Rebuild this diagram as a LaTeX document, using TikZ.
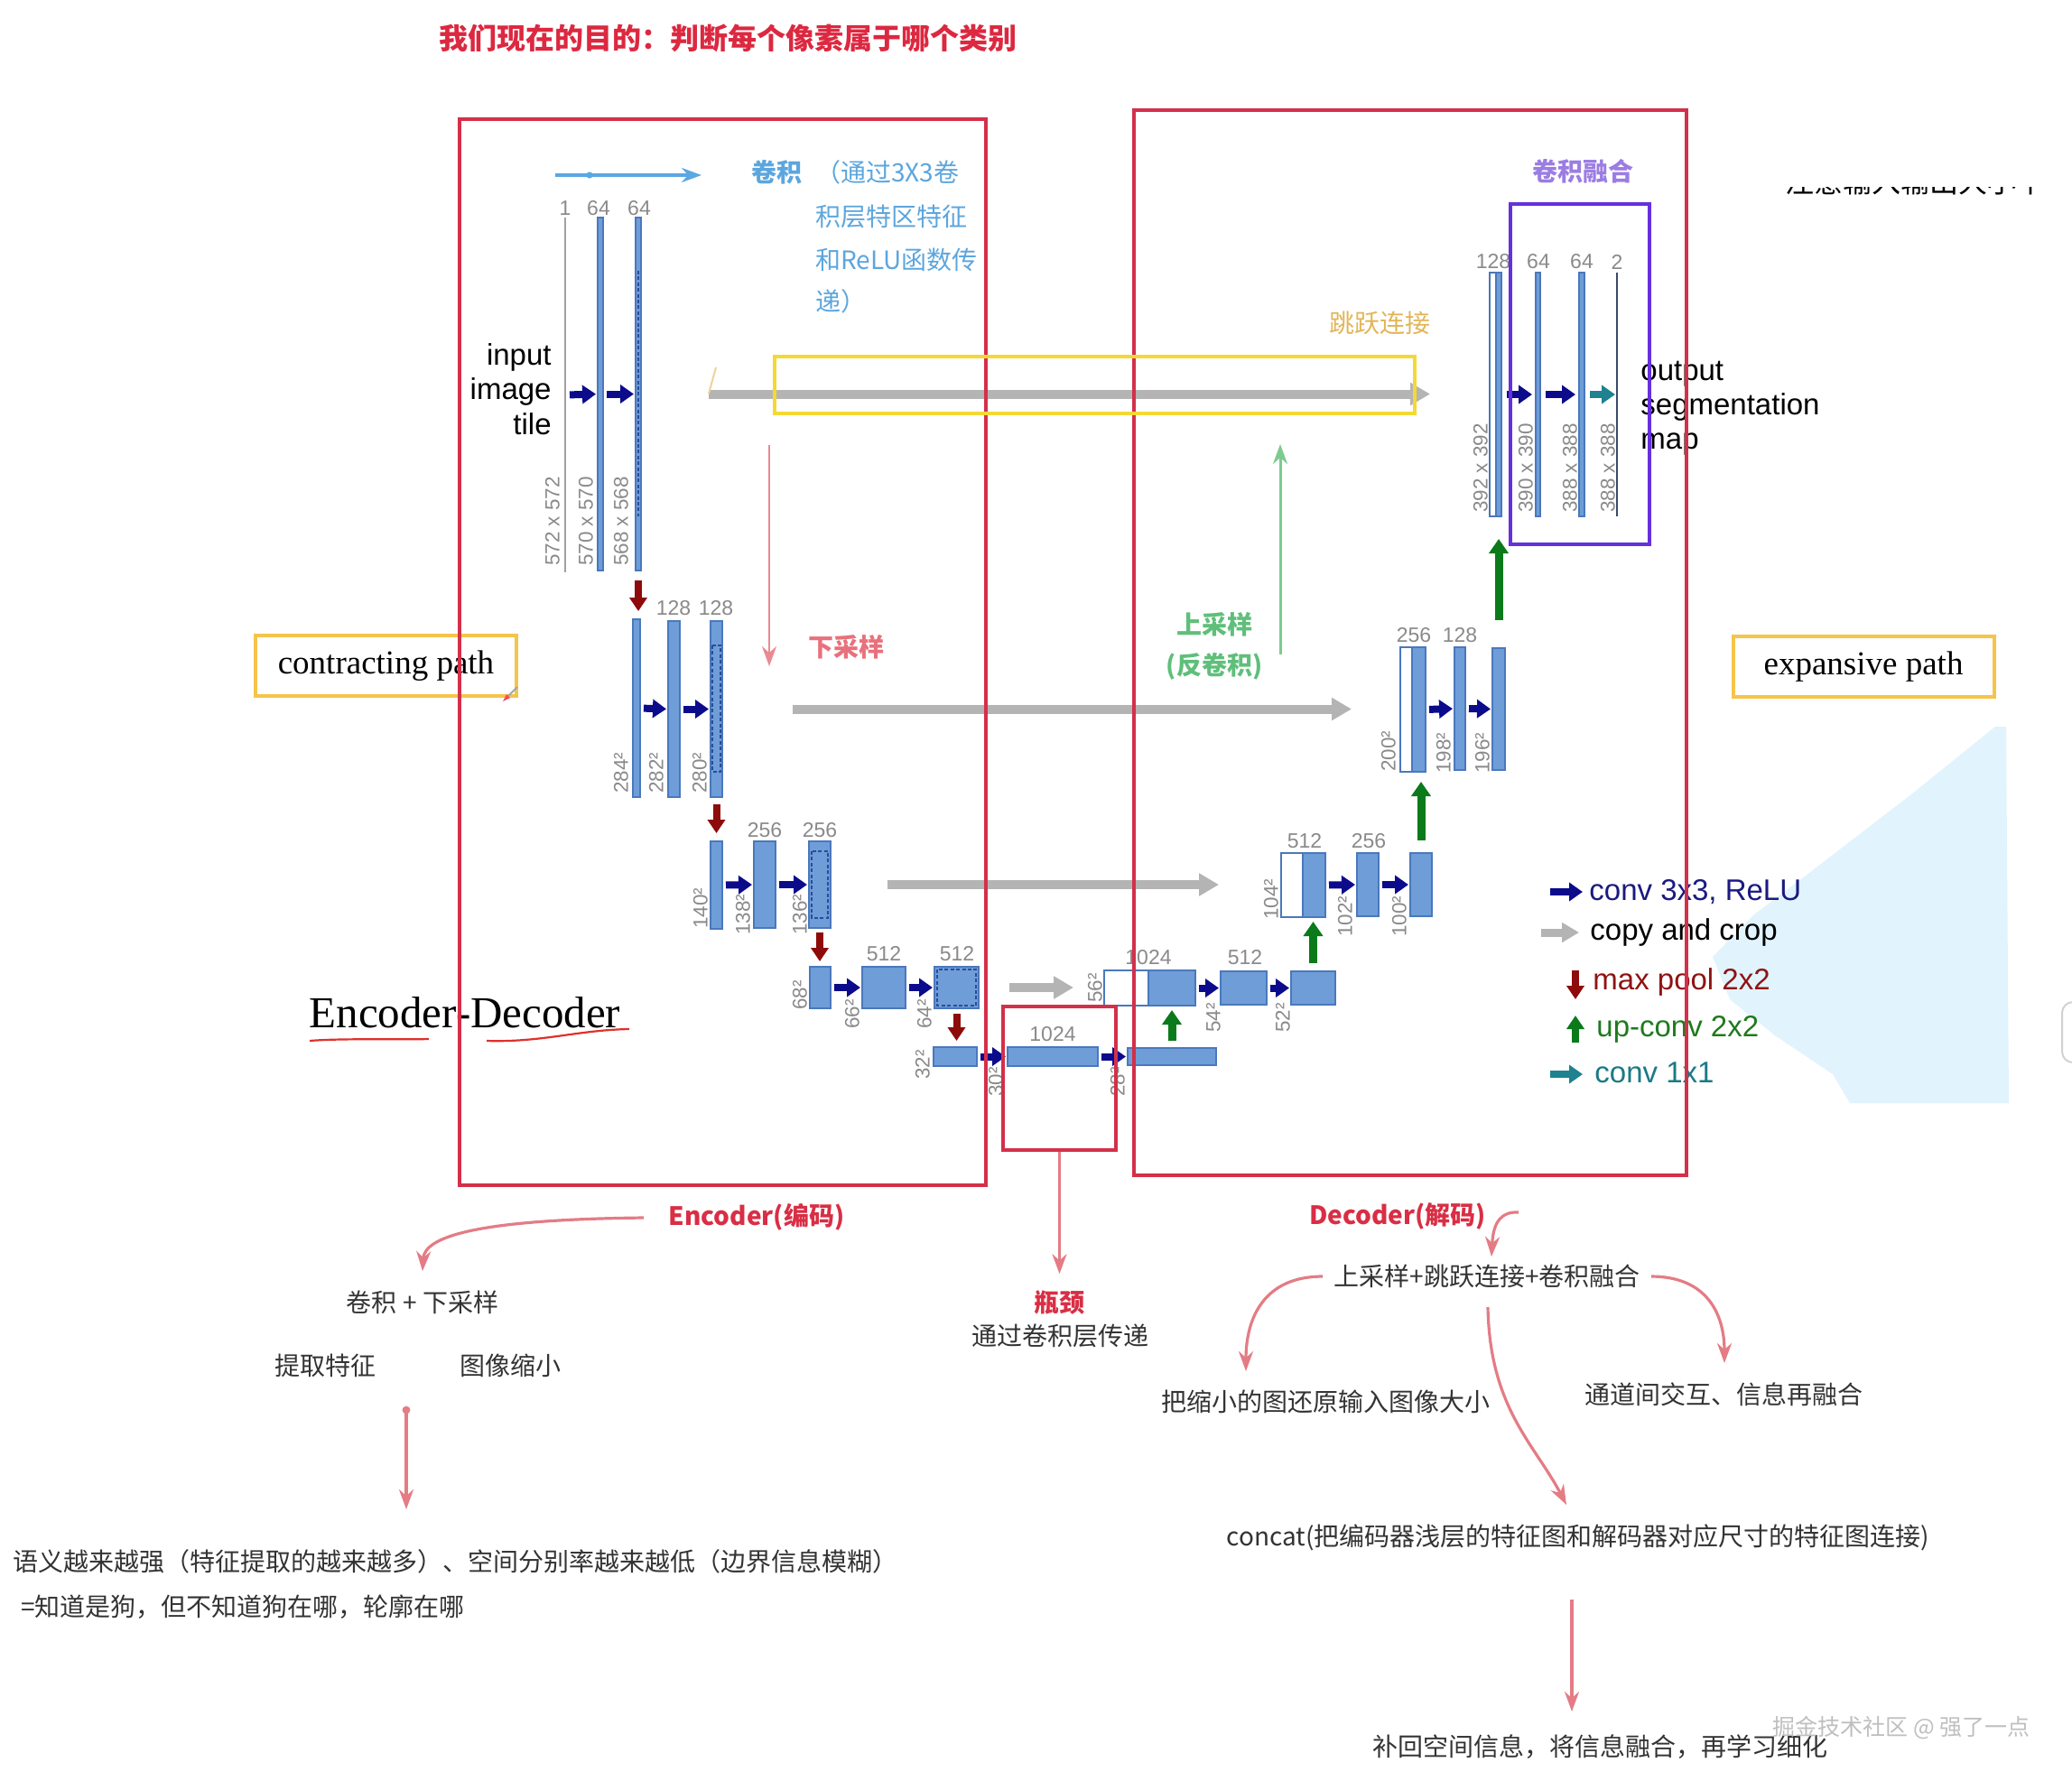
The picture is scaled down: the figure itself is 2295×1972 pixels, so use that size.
\documentclass[tikz,border=0pt]{standalone}
\usepackage{fontspec}
\setmainfont{Liberation Sans}
\newfontfamily\cjk{Noto Sans CJK SC}
\newfontfamily\tnr{Liberation Serif}
\usetikzlibrary{arrows.meta,fit,calc}
\definecolor{barfill}{HTML}{6F9DD8}
\definecolor{barline}{HTML}{4A78BC}
\definecolor{cropline}{HTML}{2A4C9A}
\definecolor{navyarr}{HTML}{0B0B8C}
\definecolor{poolred}{HTML}{8E0B0B}
\definecolor{upgreen}{HTML}{0A7A1A}
\definecolor{tealarr}{HTML}{1E8290}
\definecolor{copygray}{HTML}{B4B4B4}
\definecolor{labgray}{HTML}{8A8A8A}
\definecolor{outline}{HTML}{3A4A6A}
\definecolor{boxred}{HTML}{D3304A}
\definecolor{titlered}{HTML}{DC2840}
\definecolor{notered}{HTML}{D92E45}
\definecolor{annblue}{HTML}{5AA8E2}
\definecolor{annbluetext}{HTML}{5CA6DE}
\definecolor{annred}{HTML}{E98A92}
\definecolor{annredtext}{HTML}{E8717C}
\definecolor{anngreen}{HTML}{7DCB90}
\definecolor{anngreentext}{HTML}{5FBF7A}
\definecolor{skiptan}{HTML}{E3B559}
\definecolor{purpletext}{HTML}{9B7DE3}
\definecolor{purplebox}{HTML}{6630DD}
\definecolor{skipyellow}{HTML}{F4D935}
\definecolor{pathyellow}{HTML}{F5C44A}
\definecolor{lgnavy}{HTML}{1A1A80}
\definecolor{lgred}{HTML}{8E1414}
\definecolor{lggreen}{HTML}{1E7A1E}
\definecolor{lgteal}{HTML}{1A7A86}
\definecolor{paleblue}{HTML}{E1F3FC}
\definecolor{arrred}{HTML}{E47C85}
\definecolor{ulred}{HTML}{E0302A}
\definecolor{notegray}{HTML}{333333}
\newcommand{\fs}[2]{\fontsize{#1pt}{#2pt}\selectfont}
\newcommand{\blk}[6][blkst]{\node[#1, fit={(#3,#4) (#5,#6)}] (#2) {};}
\tikzset{
  blkst/.style={draw=barline, fill=barfill, line width=0.6pt, inner sep=0pt, outer sep=0pt},
  whiteblk/.style={blkst, fill=white},
  thinst/.style={fill=labgray!80, draw=none, inner sep=0pt, outer sep=0pt},
  outst/.style={fill=outline, draw=none, inner sep=0pt, outer sep=0pt},
  cropst/.style={draw=cropline, dash pattern=on 2pt off 1.2pt, line width=0.9pt},
  convarr/.style={draw=navyarr, line width=4pt, -{Triangle[length=7.5pt,width=10pt]}, shorten <=2pt, shorten >=1pt},
  c11arr/.style={convarr, draw=tealarr},
  copyarr/.style={draw=copygray, line width=5pt, -{Triangle[length=11pt,width=12pt]}},
  poolarr/.style={draw=poolred, line width=4pt, -{Triangle[length=7.5pt,width=9.5pt]}},
  uparr/.style={draw=upgreen, line width=4.5pt, -{Triangle[length=8pt,width=10.5pt]}},
  chl/.style={font=\fs{11.5}{13}, text=labgray, inner sep=0pt},
  szl/.style={font=\fs{11.2}{13}, text=labgray, inner sep=0pt, rotate=90, anchor=west},
  lgt/.style={font=\fs{16.5}{19}, anchor=west, inner sep=0pt},
  anntext/.style={font=\cjk\fs{14}{17}, text=annbluetext, inner sep=0pt},
  annbold/.style={font=\cjk\bfseries\fs{14}{17}, inner sep=0pt},
  notet/.style={font=\cjk\fs{14}{17}, text=notegray, inner sep=1pt},
  notebold/.style={font=\cjk\bfseries\fs{14}{17}, text=notered, inner sep=1pt},
  notearr/.style={draw=arrred, line width=1.6pt, -{Stealth[length=11pt,width=8pt]}},
  pathbox/.style={draw=pathyellow, line width=2pt, minimum width=144.5pt, minimum height=33.5pt, font=\tnr\fs{18.5}{21}, inner sep=0pt},
  redbox/.style={draw=boxred, line width=2pt, inner sep=0pt}
}
\begin{document}
\begin{tikzpicture}[x=0.5pt, y=-0.5pt]
\useasboundingbox (0,0) rectangle (2295,1972);
\fill[white] (0,0) rectangle (2295,1972);

% pale blue background patch
\fill[paleblue] (2210,805) -- (2222,805) -- (2225,1222) -- (2049,1222) -- (2030,1190) -- (1966,1147) -- (1916,1107) -- (1897,1060) -- (1943,1013) -- (2004,967) -- (2117,880) -- cycle;
\draw[gray!35, line width=1pt, rounded corners=6pt] (2295,1110) -- (2284,1110) -- (2284,1177) -- (2295,1177);

% title
\node[font=\cjk\bfseries\fs{16}{19}, text=titlered, inner sep=0pt] (title) at (806,42) {我们现在的目的：判断每个像素属于哪个类别};

% clipped text top right
\begin{scope}
\clip (1960,207) rectangle (2295,222);
\node[font=\cjk\fs{16}{19}, anchor=base west, inner sep=0pt] (cut) at (1977,213) {注意输入输出大小不一};
\end{scope}

% ================= U-Net encoder =================
% level 1
\node[thinst, fit={(625,241) (627,634)}] (e1a) {};
\blk{e1b}{662}{241}{668}{632}
\blk{e1c}{704}{241}{710}{632}
\draw[cropst] (707,300) -- (707,572);
\node[chl] (c1) at (626,231) {1};
\node[chl] (c2) at (663,231) {64};
\node[chl] (c3) at (708,231) {64};
\node[szl] (s1) at (612,627) {572 x 572};
\node[szl] (s2) at (649,627) {570 x 570};
\node[szl] (s3) at (688,627) {568 x 568};
\draw[convarr] (e1a.east) -- (e1b.west);
\draw[convarr] (e1b.east) -- (e1c.west);
\node[font=\fs{16.5}{19.25}, align=right, anchor=east, inner sep=0pt] (inp) at (611,431) {input\\image\\tile};

% level 2
\blk{e2a}{701}{686}{709}{883}
\blk{e2b}{740}{688}{753}{883}
\blk{e2c}{787}{688}{800}{883}
\draw[cropst] (789,715) rectangle (798,855);
\node[chl] (c4) at (746,674) {128};
\node[chl] (c5) at (793,674) {128};
\node[szl] (s4) at (688,879) {284²};
\node[szl] (s5) at (727,879) {282²};
\node[szl] (s6) at (775,879) {280²};
\draw[convarr] (e2a.east) -- (e2b.west);
\draw[convarr] (e2b.east) -- (e2c.west);

% level 3
\blk{e3a}{787}{932}{800}{1029}
\blk{e3b}{835}{932}{859}{1028}
\blk{e3c}{896}{932}{920}{1028}
\draw[cropst] (899,943) rectangle (917,1017);
\node[chl] (c6) at (847,920) {256};
\node[chl] (c7) at (908,920) {256};
\node[szl] (s7) at (776,1029) {140²};
\node[szl] (s8) at (823,1036) {138²};
\node[szl] (s9) at (886,1036) {136²};
\draw[convarr] (e3a.east) -- (e3b.west);
\draw[convarr] (e3b.east) -- (e3c.west);

% level 4
\blk{e4a}{897}{1071}{920}{1117}
\blk{e4b}{955}{1071}{1003}{1117}
\blk{e4c}{1035}{1071}{1084}{1117}
\draw[cropst] (1038,1074) rectangle (1081,1114);
\node[chl] (c8) at (979,1057) {512};
\node[chl] (c9) at (1060,1057) {512};
\node[szl] (s10) at (886,1119) {68²};
\node[szl] (s11) at (944,1140) {66²};
\node[szl] (s12) at (1024,1140) {64²};
\draw[convarr] (e4a.east) -- (e4b.west);
\draw[convarr] (e4b.east) -- (e4c.west);

% level 5
\blk{e5a}{1034}{1160}{1082}{1181}
\blk{e5b}{1116}{1160}{1216}{1181}
\blk{d5}{1249}{1161}{1347}{1180}
\node[chl] (c10) at (1166,1146) {1024};
\node[szl] (s13) at (1022,1196) {32²};
\node[szl] (s14) at (1103,1215) {30²};
\node[szl] (s15) at (1238,1215) {28²};
\draw[convarr] (e5a.east) -- (e5b.west);
\draw[convarr] (e5b.east) -- (d5.west);

% ================= decoder =================
% level 4
\blk[whiteblk]{d4w}{1223}{1075}{1272}{1114}
\blk{d4a}{1272}{1075}{1324}{1114}
\blk{d4b}{1352}{1076}{1403}{1113}
\blk{d4c}{1430}{1076}{1479}{1113}
\node[chl] (c11) at (1272,1061) {1024};
\node[chl] (c12) at (1379,1061) {512};
\node[szl] (s16) at (1213,1111) {56²};
\node[szl] (s17) at (1344,1144) {54²};
\node[szl] (s18) at (1421,1144) {52²};
\draw[convarr] (d4a.east) -- (d4b.west);
\draw[convarr] (d4b.east) -- (d4c.west);

% level 3
\blk[whiteblk]{d3w}{1419}{945}{1443}{1016}
\blk{d3a}{1443}{945}{1468}{1016}
\blk{d3b}{1503}{945}{1527}{1015}
\blk{d3c}{1562}{945}{1586}{1015}
\node[chl] (c13) at (1445,932) {512};
\node[chl] (c14) at (1516,932) {256};
\node[szl] (s19) at (1408,1019) {104²};
\node[szl] (s20) at (1490,1038) {102²};
\node[szl] (s21) at (1550,1038) {100²};
\draw[convarr] (d3a.east) -- (d3b.west);
\draw[convarr] (d3b.east) -- (d3c.west);

% level 2
\blk[whiteblk]{d2w}{1551}{717}{1564}{855}
\blk{d2a}{1564}{717}{1579}{855}
\blk{d2b}{1611}{717}{1623}{853}
\blk{d2c}{1653}{718}{1667}{853}
\node[chl] (c15) at (1566,704) {256};
\node[chl] (c16) at (1617,704) {128};
\node[szl] (s22) at (1538,855) {200²};
\node[szl] (s23) at (1599,857) {198²};
\node[szl] (s24) at (1642,857) {196²};
\draw[convarr] (d2a.east) -- (d2b.west);
\draw[convarr] (d2b.east) -- (d2c.west);

% level 1
\blk[whiteblk]{d1w}{1650}{302}{1657}{572}
\blk{d1a}{1657}{302}{1663}{572}
\blk{d1b}{1701}{302}{1706}{572}
\blk{d1c}{1749}{302}{1755}{572}
\node[outst, fit={(1790,302) (1792,572)}] (d1o) {};
\node[chl] (c17) at (1654,290) {128};
\node[chl] (c18) at (1704,290) {64};
\node[chl] (c19) at (1752,290) {64};
\node[chl] (c20) at (1791,290) {2};
\node[szl] (s25) at (1640,568) {392 x 392};
\node[szl] (s26) at (1690,568) {390 x 390};
\node[szl] (s27) at (1739,568) {388 x 388};
\node[szl] (s28) at (1781,568) {388 x 388};
\draw[convarr, shorten <=3pt, shorten >=2pt] (d1a.east) -- (d1b.west);
\draw[convarr, shorten <=3pt, shorten >=2pt] (d1b.east) -- (d1c.west);
\draw[c11arr, shorten <=3pt, shorten >=0.5pt] (d1c.east) -- (d1o.west);
\node[font=\fs{16.5}{19}, align=left, anchor=west, inner sep=0pt] (outp) at (1817,452) {output\\segmentation\\map};

% max pool arrows
\draw[poolarr, shorten <=5.5pt, shorten >=4.5pt] (e1c.south) -- (e1c.south |- e2a.north);
\draw[poolarr, shorten <=4pt, shorten >=4.5pt] (e2c.south) -- (e2c.south |- e3a.north);
\draw[poolarr, shorten <=2.5pt, shorten >=3pt] (e3c.south) -- (e3c.south |- e4a.north);
\draw[poolarr, shorten <=3pt, shorten >=3.5pt] (e4c.south) -- (e4c.south |- e5a.north);

% up-conv arrows
\draw[uparr, shorten <=4pt, shorten >=2.5pt] (d5.north) -- (d5.north |- d4a.south);
\draw[uparr, shorten <=4.5pt, shorten >=2.5pt] (d4c.north) -- (d4c.north |- d3a.south);
\draw[uparr, shorten <=7pt, shorten >=5.5pt] (d3c.north) -- (d3c.north |- d2a.south);
\draw[uparr, shorten <=15.5pt, shorten >=12.5pt] (d2c.north) -- (d2c.north |- d1a.south);

% copy and crop arrows
\draw[copyarr, shorten <=37.5pt, shorten >=33pt] (e1c.east) -- (e1c.east -| d1w.west);
\draw[copyarr, shorten <=39pt, shorten >=27pt] (e2c.east) -- (e2c.east -| d2w.west);
\draw[copyarr, shorten <=31.5pt, shorten >=34.5pt] (e3c.east) -- (e3c.east -| d3w.west);
\draw[copyarr, shorten <=17pt, shorten >=17pt] (e4c.east) -- (e4c.east -| d4w.west);
\draw[draw=skiptan!60, line width=1pt] (785,436) -- (793,407);

% legend
\node[lgt, text=lgnavy] (lg1) at (1760,988) {conv 3x3, ReLU};
\draw[convarr, shorten <=0pt, shorten >=0pt] ([xshift=-21.5pt]lg1.west) -- ([xshift=-3.5pt]lg1.west);
\node[lgt, text=black] (lg2) at (1761,1033) {copy and crop};
\draw[draw=copygray, line width=4.5pt, -{Triangle[length=9.5pt,width=10.5pt]}] ([xshift=-27pt]lg2.west) -- ([xshift=-6pt]lg2.west);
\node[lgt, text=lgred] (lg3) at (1764,1088) {max pool 2x2};
\draw[poolarr] ([xshift=-9.5pt,yshift=6.5pt]lg3.west) -- ([xshift=-9.5pt,yshift=-9.5pt]lg3.west);
\node[lgt, text=lggreen] (lg4) at (1768,1140) {up-conv 2x2};
\draw[draw=upgreen, line width=4pt, -{Triangle[length=7.5pt,width=9.5pt]}] ([xshift=-11.5pt,yshift=-7.5pt]lg4.west) -- ([xshift=-11.5pt,yshift=7.5pt]lg4.west);
\node[lgt, text=lgteal] (lg5) at (1766,1188) {conv 1x1};
\draw[c11arr, shorten <=0pt, shorten >=0pt] ([xshift=-24.5pt,yshift=-1pt]lg5.west) -- ([xshift=-6.5pt,yshift=-1pt]lg5.west);

% ================= annotations =================
\coordinate (cvs) at (615,194);
\coordinate (cve) at (777,194);
\draw[annblue, line width=2pt, -{Stealth[length=11pt,width=8pt]}] (cvs) -- (cve);
\fill[annblue] (653,194) circle (1.8pt);
\node[annbold, text=annbluetext] (juanji) at (860,191) {卷积};
\node[anntext, anchor=west] (cv1) at (903,191) {（通过3X3卷};
\node[anntext, anchor=west] (cv2) at (903,240) {积层特区特征};
\node[anntext, anchor=west] (cv3) at (903,288) {和ReLU函数传};
\node[anntext, anchor=west] (cv4) at (903,334) {递）};

\coordinate (dsA) at (852,493);
\coordinate (dsB) at (852,738);
\draw[annred, line width=1.25pt, -{Stealth[length=11pt,width=8pt]}] (dsA) -- (dsB);
\node[annbold, text=annredtext] (xcy) at (937,717) {下采样};

\coordinate (usA) at (1418,725);
\coordinate (usB) at (1418,492);
\draw[anngreen, line width=1.5pt, -{Stealth[length=11pt,width=8pt]}] (usA) -- (usB);
\node[annbold, text=anngreentext] (scy) at (1345,692) {上采样};
\node[annbold, text=anngreentext] (fjj) at (1345,738) {(反卷积)};

\node[font=\cjk\fs{14}{17}, text=skiptan, inner sep=0pt] (tylj) at (1528,358) {跳跃连接};
\node[annbold, text=purpletext] (jjrh) at (1753,190) {卷积融合};

% Encoder-Decoder
\node[font=\tnr\fs{24.5}{28}, anchor=base, inner sep=0pt] (encdec) at (515,1138) {Encoder-Decoder};
\draw[ulred, line width=1.1pt] (343,1153) .. controls (380,1150) and (440,1152) .. (475,1151);
\draw[ulred, line width=1.1pt] (539,1153) .. controls (600,1155) and (640,1141) .. (697,1140);

% path boxes
\node[pathbox] (cpath) at (427.5,737.5) {\raisebox{-1.5pt}{contracting path}};
\node[pathbox] (epath) at (2064,738.5) {\raisebox{-1.5pt}{expansive path}};
\draw[gray!70, line width=1pt] (562,772) -- (573,761);
\fill[red!70] (557,777) -- (561,769) -- (565,773) -- cycle;

% ================= boxes =================
\node[redbox, fit={(509,132) (1092,1313)}] (encbox) {};
\node[redbox, fit={(1256,122) (1868,1302)}] (decbox) {};
\node[redbox, fit={(1111,1115) (1236,1274)}] (bneck) {};
\node[draw=purplebox, line width=2pt, inner sep=0pt, fit={(1673,226) (1827,603)}] (fusebox) {};
\node[draw=skipyellow, line width=2pt, inner sep=0pt, fit={(858,395) (1567,458)}] (skipbox) {};

% ================= bottom notes =================
\node[notebold] (enclab) at (838,1348) {Encoder(编码)};
\node[notet] (convds) at (468,1443) {卷积 + 下采样};
\node[notet] (feat) at (360,1513) {提取特征};
\node[notet] (shrinkimg) at (565,1513) {图像缩小};
\node[notet, anchor=west] (sem1) at (12,1730) {语义越来越强（特征提取的越来越多）、空间分别率越来越低（边界信息模糊）};
\node[notet, anchor=west] (sem2) at (21,1780) {=知道是狗，但不知道狗在哪，轮廓在哪};
\node[notebold] (bnlab) at (1173,1443) {瓶颈};
\node[notet] (bntxt) at (1174,1480) {通过卷积层传递};
\node[notebold] (declab) at (1548,1347) {Decoder(解码)};
\node[notet] (updec) at (1647,1414) {上采样+跳跃连接+卷积融合};
\node[notet] (restore) at (1468,1553) {把缩小的图还原输入图像大小};
\node[notet] (chan) at (1909,1545) {通道间交互、信息再融合};
\node[notet] (concat) at (1748,1703) {concat(把编码器浅层的特征图和解码器对应尺寸的特征图连接)};
\node[notet] (refine) at (1772,1935) {补回空间信息，将信息融合，再学习细化};
\node[font=\cjk\fs{12.5}{15}, text=gray!50, inner sep=0pt] (wm) at (2106,1914) {掘金技术社区 @ 强了一点};

% bottom arrows
\coordinate (ea1) at (713,1349);
\coordinate (ea2) at (468,1408);
\draw[notearr] (ea1) .. controls (527,1351) and (470,1370) .. (ea2);
\coordinate (da1) at (450,1562);
\coordinate (da2) at (450,1672);
\fill[arrred] (da1) circle (2.2pt);
\draw[notearr] (da1) -- (da2);
\draw[notearr, shorten >=8pt] (bneck.south) -- (bneck.south |- bnlab.north);
\coordinate (dq1) at (1682,1343);
\coordinate (dq2) at (1652,1392);
\draw[notearr] (dq1) .. controls (1664,1342) and (1654,1352) .. (dq2);
\coordinate (l1) at (1465,1414);
\coordinate (l2) at (1380,1519);
\draw[notearr] (l1) .. controls (1400,1414) and (1380,1460) .. (l2);
\coordinate (r1) at (1829,1414);
\coordinate (r2) at (1910,1510);
\draw[notearr] (r1) .. controls (1890,1414) and (1910,1455) .. (r2);
\coordinate (m1) at (1648,1448);
\coordinate (m2) at (1735,1667);
\draw[notearr] (m1) .. controls (1650,1560) and (1700,1600) .. (m2);
\coordinate (b1) at (1741,1772);
\coordinate (b2) at (1741,1896);
\draw[notearr] (b1) -- (b2);
\end{tikzpicture}
\end{document}
